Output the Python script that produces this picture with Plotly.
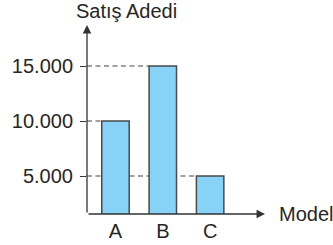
import plotly.graph_objects as go

categories = ["A", "B", "C"]
values = [10000, 15000, 5000]
tick_values = [5000, 10000, 15000]
tick_labels = ["5.000", "10.000", "15.000"]
y_title = "Satış Adedi"
x_title = "Model"

bar_width = 0.58
x_min, x_max = -0.602, 3.16
y_min, y_max = 1545, 18727

font_family = "Liberation Sans, Arial, sans-serif"
text_color = "#262626"
axis_color = "#333333"
fs = 20

xpos = list(range(len(categories)))

fig = go.Figure()
fig.add_trace(go.Bar(
    x=xpos, y=values, width=bar_width,
    marker=dict(color="#86D3F7", line=dict(color="#4A4A4A", width=1.5)),
    hoverinfo="skip",
))

shapes = []
for i, v in enumerate(values):
    shapes.append(dict(
        type="line", xref="x", yref="y", layer="below",
        x0=x_min, x1=i - bar_width / 2, y0=v, y1=v,
        line=dict(color="#444444", width=1.2, dash="5px,3.5px"),
    ))

annotations = [
    # x axis arrow
    dict(x=x_max, y=y_min, xref="x", yref="y", ax=x_min, ay=y_min,
         axref="x", ayref="y", text="", showarrow=True, arrowhead=2,
         arrowsize=1.3, arrowwidth=1.3, arrowcolor=axis_color, standoff=0),
    # y axis arrow
    dict(x=x_min, y=y_max, xref="x", yref="y", ax=x_min, ay=y_min,
         axref="x", ayref="y", text="", showarrow=True, arrowhead=2,
         arrowsize=1.3, arrowwidth=1.3, arrowcolor=axis_color, standoff=0),
    dict(x=126.5, y=11, xref="paper", yref="paper", text=y_title, showarrow=False,
         font=dict(size=fs, color=text_color, family=font_family),
         xanchor="center", yanchor="middle"),
    dict(x=277, y=214, xref="paper", yref="paper", text=x_title, showarrow=False,
         font=dict(size=fs, color=text_color, family=font_family),
         xanchor="left", yanchor="middle"),
]
# convert pixel positions for title annotations into paper coordinates
L, R, T, B = 87, 68, 25, 31
W, H = 333, 245
pw, ph = W - L - R, H - T - B
for a in annotations[2:]:
    a["x"] = (a["x"] - L) / pw
    a["y"] = (H - B - a["y"]) / ph

fig.update_layout(
    width=W, height=H,
    margin=dict(l=L, r=R, t=T, b=B, pad=0, autoexpand=False),
    paper_bgcolor="white", plot_bgcolor="white",
    showlegend=False,
    shapes=shapes, annotations=annotations,
    font=dict(family=font_family, color=text_color, size=fs),
    xaxis=dict(range=[x_min, x_max], tickvals=xpos, ticktext=categories,
               showgrid=False, zeroline=False, showline=False, ticks="",
               tickfont=dict(size=fs, color=text_color), ticklabelstandoff=3,
               automargin=False, fixedrange=True),
    yaxis=dict(range=[y_min, y_max], tickvals=tick_values, ticktext=tick_labels,
               showgrid=False, zeroline=False, showline=False,
               ticks="outside", ticklen=6, tickwidth=1.2, tickcolor=axis_color,
               tickfont=dict(size=fs, color=text_color), ticklabelstandoff=3,
               automargin=False, fixedrange=True),
)
fig.write_html("out.html", config={"displayModeBar": False},
               post_script="document.body.style.margin='0';")
